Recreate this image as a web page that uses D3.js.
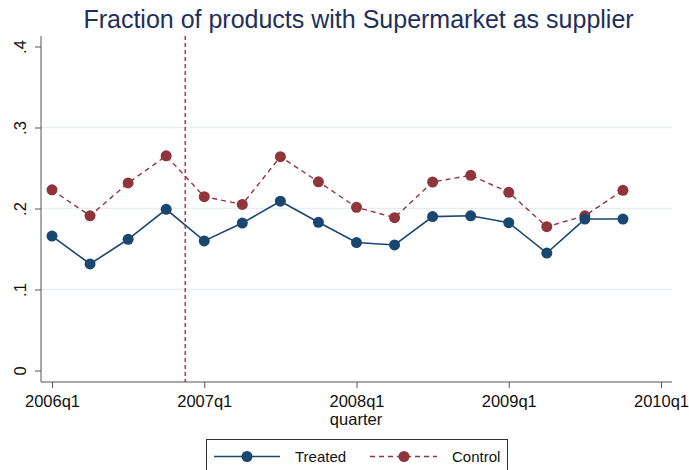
<!DOCTYPE html>
<meta charset="utf-8">
<style>
  body { margin: 0; background: #fff; }
  text { font-family: "Liberation Sans", Arial, sans-serif; fill: #111; }
  .grid line { stroke: #e6eff1; stroke-width: 1.5; }
  .axis path, .axis line { stroke: #555; }
</style>
<svg width="689" height="470"></svg>
<script src="https://cdnjs.cloudflare.com/ajax/libs/d3/7.8.5/d3.min.js"></script>
<script>

// quarters since 2006q1
var quarters = d3.range(16),
    treated = [0.166, 0.1315, 0.162, 0.199, 0.160, 0.182, 0.209, 0.183,
               0.158, 0.155, 0.190, 0.191, 0.1825, 0.145, 0.187, 0.187],
    control = [0.223, 0.191, 0.2315, 0.265, 0.2146, 0.205, 0.264, 0.233,
               0.2015, 0.1887, 0.2327, 0.241, 0.220, 0.1775, 0.191, 0.2225],
    xTicks = [0, 4, 8, 12, 16],
    xTickLabels = ["2006q1", "2007q1", "2008q1", "2009q1", "2010q1"],
    yTicks = [0, 0.1, 0.2, 0.3, 0.4],
    yTickLabels = ["0", ".1", ".2", ".3", ".4"],
    gridTicks = [0.1, 0.2, 0.3],
    eventQuarter = 3.5;

var navy = "#1a476f", maroon = "#90353b";

var svg = d3.select("svg");

var x = d3.scaleLinear().domain([0, 16]).range([52, 661]);
var y = d3.scaleLinear().domain([0, 0.4]).range([370.5, 46.5]);
// note: "top" is taken by window.top, so use other names
var plotLeft = 41, plotRight = 672, plotBottom = 382, plotTop = 36;

// title
svg.append("text")
    .attr("x", 358.5).attr("y", 28)
    .attr("text-anchor", "middle")
    .style("font-size", "25px")
    .style("fill", "#1e2f5c")
    .text("Fraction of products with Supermarket as supplier");

// grid
svg.append("g").attr("class", "grid")
  .selectAll("line").data(gridTicks).enter().append("line")
    .attr("x1", plotLeft).attr("x2", plotRight)
    .attr("y1", function(d) { return y(d); })
    .attr("y2", function(d) { return y(d); });

// y axis
var yAxis = d3.axisLeft(y).tickValues(yTicks).tickSize(6)
    .tickFormat(function(d, i) { return yTickLabels[i]; });
var gy = svg.append("g").attr("class", "axis")
    .attr("transform", "translate(" + plotLeft + ",0)")
    .call(yAxis);
gy.select(".domain").attr("d", "M0," + plotTop + "V" + plotBottom);
gy.selectAll("text")
    .style("font-size", "16.5px")
    .attr("x", null).attr("dy", null)
    .attr("text-anchor", "middle")
    .attr("transform", "translate(-15,0) rotate(-90)")
    .attr("y", 0);

// x axis
var xAxis = d3.axisBottom(x).tickValues(xTicks).tickSize(6)
    .tickFormat(function(d, i) { return xTickLabels[i]; });
var gx = svg.append("g").attr("class", "axis")
    .attr("transform", "translate(0," + plotBottom + ")")
    .call(xAxis);
gx.select(".domain").attr("d", "M" + plotLeft + ",0H" + plotRight);
gx.selectAll("text").style("font-size", "16.5px").attr("y", 13).attr("dy", "0.71em");

svg.append("text")
    .attr("x", 356).attr("y", 425)
    .attr("text-anchor", "middle")
    .style("font-size", "16.5px")
    .text("quarter");

// event line
svg.append("line")
    .attr("x1", x(eventQuarter)).attr("x2", x(eventQuarter))
    .attr("y1", plotTop).attr("y2", plotBottom)
    .attr("stroke", "#c8102e").attr("stroke-width", 1.3)
    .attr("stroke-dasharray", "4,3");

var line = d3.line().x(function(d, i) { return x(quarters[i]); }).y(function(d) { return y(d); });

svg.append("path").datum(control)
    .attr("fill", "none").attr("stroke", maroon).attr("stroke-width", 1.4)
    .attr("stroke-dasharray", "5,4")
    .attr("d", line);
svg.append("path").datum(treated)
    .attr("fill", "none").attr("stroke", navy).attr("stroke-width", 1.6)
    .attr("d", line);

svg.append("g").selectAll("circle").data(control).enter().append("circle")
    .attr("cx", function(d, i) { return x(quarters[i]); })
    .attr("cy", function(d) { return y(d); })
    .attr("r", 5.5).attr("fill", maroon);
svg.append("g").selectAll("circle").data(treated).enter().append("circle")
    .attr("cx", function(d, i) { return x(quarters[i]); })
    .attr("cy", function(d) { return y(d); })
    .attr("r", 5.5).attr("fill", navy);

// legend
var lg = svg.append("g");
lg.append("rect")
    .attr("x", 206.5).attr("y", 439.5).attr("width", 301).attr("height", 40)
    .attr("fill", "#fff").attr("stroke", "#333").attr("stroke-width", 1);
lg.append("line").attr("x1", 214).attr("x2", 280).attr("y1", 456.5).attr("y2", 456.5)
    .attr("stroke", navy).attr("stroke-width", 1.6);
lg.append("circle").attr("cx", 247).attr("cy", 456.5).attr("r", 5.5).attr("fill", navy);
lg.append("text").attr("x", 295).attr("y", 462).style("font-size", "15px").text("Treated");
lg.append("line").attr("x1", 370).attr("x2", 437).attr("y1", 456.5).attr("y2", 456.5)
    .attr("stroke", maroon).attr("stroke-width", 1.4).attr("stroke-dasharray", "5,4");
lg.append("circle").attr("cx", 404).attr("cy", 456.5).attr("r", 5.5).attr("fill", maroon);
lg.append("text").attr("x", 452).attr("y", 462).style("font-size", "15px").text("Control");

</script>
